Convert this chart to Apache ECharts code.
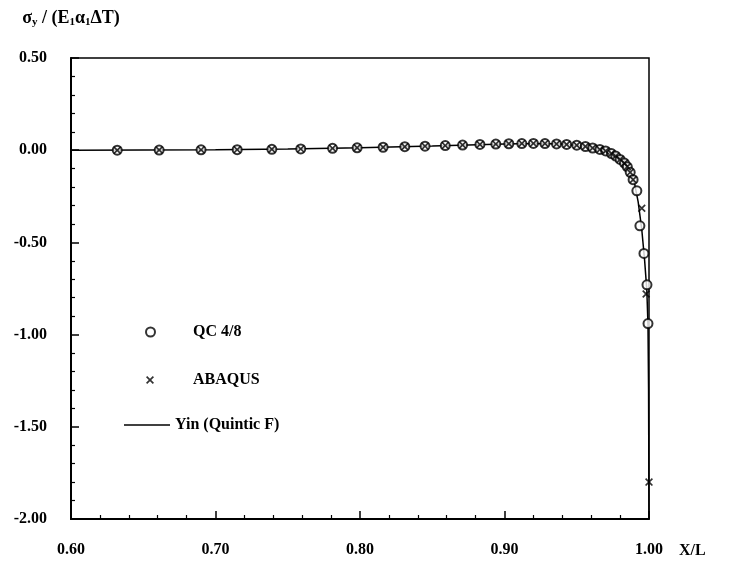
<!DOCTYPE html>
<html>
<head>
<meta charset="utf-8">
<script src="https://cdn.jsdelivr.net/npm/echarts@6/dist/echarts.min.js"></script>
<style>
  html, body { margin: 0; padding: 0; background: #fff; }
  #chart { width: 732px; height: 573px; }
</style>
</head>
<body>
<div id="chart"></div>
<script>
// QC 4/8 element results (X/L, sigma_y normalised)
const qcX = [0.632, 0.661, 0.690, 0.715, 0.739, 0.759, 0.781, 0.798, 0.816, 0.831,
  0.845, 0.859, 0.871, 0.883, 0.894, 0.903, 0.912, 0.920, 0.928, 0.936,
  0.943, 0.950, 0.956, 0.961, 0.966, 0.970, 0.974, 0.977, 0.980, 0.983,
  0.985, 0.987, 0.989, 0.9916, 0.9937, 0.9965, 0.9986, 0.9993];
const qcY = [0.000, 0.001, 0.002, 0.003, 0.005, 0.007, 0.010, 0.013, 0.016, 0.019,
  0.022, 0.025, 0.028, 0.031, 0.033, 0.035, 0.036, 0.037, 0.036, 0.034,
  0.031, 0.027, 0.020, 0.012, 0.004, -0.004, -0.018, -0.032, -0.050, -0.070,
  -0.090, -0.120, -0.160, -0.220, -0.410, -0.560, -0.730, -0.940];

// ABAQUS results
const abaqusX = [0.632, 0.661, 0.690, 0.715, 0.739, 0.759, 0.781, 0.798, 0.816, 0.831,
  0.845, 0.859, 0.871, 0.883, 0.894, 0.903, 0.912, 0.920, 0.928, 0.936,
  0.943, 0.950, 0.956, 0.961, 0.966, 0.970, 0.974, 0.977, 0.980, 0.983,
  0.985, 0.987, 0.989, 0.995, 0.998, 1.000];
const abaqusY = [0.000, 0.001, 0.002, 0.003, 0.005, 0.007, 0.010, 0.013, 0.016, 0.019,
  0.022, 0.025, 0.028, 0.031, 0.033, 0.035, 0.036, 0.037, 0.036, 0.034,
  0.031, 0.027, 0.020, 0.012, 0.004, -0.004, -0.018, -0.032, -0.050, -0.070,
  -0.090, -0.120, -0.160, -0.315, -0.780, -1.800];

// Yin (Quintic F) analytical curve
const yinX = [0.600, 0.650, 0.700, 0.750, 0.800, 0.850, 0.900, 0.920, 0.940, 0.955,
  0.965, 0.972, 0.978, 0.983, 0.987, 0.990, 0.9925, 0.995, 0.997, 0.9985,
  0.9993, 0.9997, 1.000];
const yinY = [0.000, 0.001, 0.002, 0.006, 0.013, 0.023, 0.034, 0.037, 0.033, 0.022,
  0.006, -0.010, -0.038, -0.070, -0.120, -0.180, -0.280, -0.430, -0.600, -0.760,
  -0.950, -1.300, -2.000];

const xTicks = [0.60, 0.70, 0.80, 0.90, 1.00];
const yTicks = [0.50, 0.00, -0.50, -1.00, -1.50, -2.00];

const pair = (xs, ys) => xs.map((x, i) => [x, ys[i]]);
const font = 'Liberation Serif';
const txt = { fontFamily: font, fontWeight: 'bold', fontSize: 16, color: '#000' };
const crossPath = 'path://M0,1.5L1.5,0L5,3.5L8.5,0L10,1.5L6.5,5L10,8.5L8.5,10L5,6.5L1.5,10L0,8.5L3.5,5Z';

const chart = echarts.init(document.getElementById('chart'));
chart.setOption({
  backgroundColor: '#fff',
  animation: false,
  textStyle: { fontFamily: font },
  grid: {
    left: 71, right: 83, top: 58, bottom: 54,
    show: true, borderColor: '#000', borderWidth: 1.5
  },
  legend: [
    {
      data: [{ name: 'QC 4/8', icon: 'emptyCircle' }],
      left: 140, top: 319, itemWidth: 9, itemHeight: 9,
      textStyle: Object.assign({}, txt, { padding: [0, 0, 0, 33] }),
      selectedMode: false
    },
    {
      data: [{ name: 'ABAQUS', icon: crossPath }],
      left: 141, top: 367, itemWidth: 8, itemHeight: 8,
      textStyle: Object.assign({}, txt, { padding: [0, 0, 0, 34] }),
      selectedMode: false
    },
    {
      data: [{ name: 'Yin (Quintic F)', icon: 'path://M0,0H50V1.5H0Z' }],
      left: 119, top: 412, itemWidth: 46, itemHeight: 14,
      textStyle: txt, selectedMode: false
    }
  ],
  xAxis: {
    type: 'value',
    min: xTicks[0], max: xTicks[xTicks.length - 1], interval: 0.1,
    name: 'X/L',
    nameLocation: 'end',
    nameGap: 30,
    nameTextStyle: Object.assign({}, txt, { verticalAlign: 'top', padding: [24, 0, 0, 0] }),
    axisLine: { onZero: false, lineStyle: { color: '#000', width: 2 } },
    axisTick: { inside: true, length: 8, lineStyle: { color: '#000', width: 1.5 } },
    minorTick: { show: true, splitNumber: 5, length: 4, lineStyle: { color: '#000', width: 1.2 } },
    splitLine: { show: false },
    axisLabel: Object.assign({}, txt, { margin: 23, formatter: v => v.toFixed(2) })
  },
  yAxis: {
    type: 'value',
    min: yTicks[yTicks.length - 1], max: yTicks[0], interval: 0.5,
    name: '{a|σ}{s|y}{a| / (E}{s|1}{a|α}{s|1}{a|ΔT)}',
    nameLocation: 'end',
    nameGap: 30,
    nameTextStyle: {
      rich: {
        a: { fontFamily: font, fontWeight: 'bold', fontSize: 18, color: '#000' },
        s: { fontFamily: font, fontWeight: 'bold', fontSize: 11, color: '#000', padding: [9, 0, 0, 0] }
      }
    },
    axisLine: { show: true, onZero: false, lineStyle: { color: '#000', width: 2 } },
    axisTick: { show: true, inside: true, length: 8, lineStyle: { color: '#000', width: 1.5 } },
    minorTick: { show: true, splitNumber: 5, length: 4, lineStyle: { color: '#000', width: 1.2 } },
    splitLine: { show: false },
    axisLabel: Object.assign({}, txt, { margin: 24, formatter: v => v.toFixed(2) })
  },
  series: [
    {
      name: 'Yin (Quintic F)',
      type: 'line',
      data: pair(yinX, yinY),
      symbol: 'none',
      lineStyle: { color: '#000', width: 1.5 },
      itemStyle: { color: '#000' },
      z: 1
    },
    {
      name: 'QC 4/8',
      type: 'scatter',
      data: pair(qcX, qcY),
      symbol: 'emptyCircle',
      symbolSize: 9,
      itemStyle: { color: '#000', borderWidth: 2 },
      z: 3
    },
    {
      name: 'ABAQUS',
      type: 'scatter',
      data: pair(abaqusX, abaqusY),
      symbol: crossPath,
      symbolSize: 8,
      itemStyle: { color: '#000' },
      z: 4
    }
  ]
});
</script>
</body>
</html>
